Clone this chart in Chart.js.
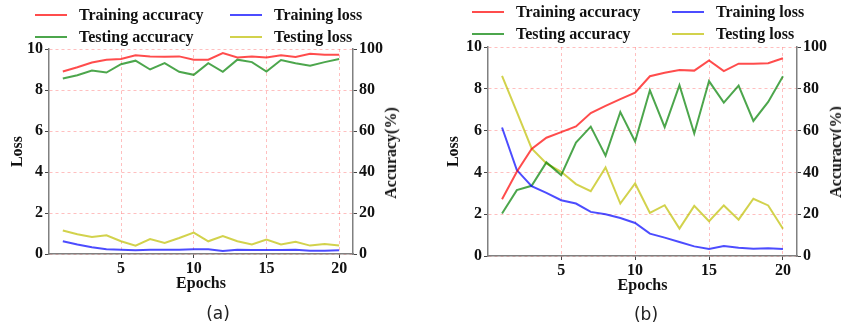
<!DOCTYPE html>
<html>
<head>
<meta charset="utf-8">
<script src="https://cdn.jsdelivr.net/npm/chart.js@4.4.1/dist/chart.umd.min.js"></script>
<style>
  html, body { margin: 0; padding: 0; background: #fff; }
  body { width: 841px; height: 326px; position: relative; overflow: hidden; }
  canvas { position: absolute; top: 0; }
  #chartA { left: 0; }
  #chartB { left: 420px; }
  .legend { position: absolute; display: grid; grid-auto-rows: 22px; font: bold 16px 'Liberation Serif', serif; color: #111; }
  .legend-item { display: flex; align-items: center; white-space: nowrap; }
  .swatch { width: 32px; height: 2px; margin-right: 12px; }
  .ytitle-right { position: absolute; transform: translate(-50%, -50%) rotate(-90deg); font: bold 16px 'Liberation Serif', serif; color: #111; white-space: nowrap; }
  .caption { position: absolute; transform: translate(-50%, -50%); font: 17px 'DejaVu Sans', sans-serif; color: #222; }
</style>
</head>
<body>
<canvas id="chartA" width="420" height="326"></canvas>
<canvas id="chartB" width="421" height="326"></canvas>

<div class="legend" id="legendA" style="left:35px; top:4px; grid-template-columns:195px 195px;"></div>
<div class="legend" id="legendB" style="left:472px; top:1px; grid-template-columns:200px 200px;"></div>

<div class="ytitle-right" style="left:391px; top:153px;">Accuracy(%)</div>
<div class="ytitle-right" style="left:836px; top:152px;">Accuracy(%)</div>

<div class="caption" style="left:218px; top:313px;">(a)</div>
<div class="caption" style="left:646px; top:314px;">(b)</div>

<script>
const epochs = [1, 2, 3, 4, 5, 6, 7, 8, 9, 10, 11, 12, 13, 14, 15, 16, 17, 18, 19, 20];
const epochTicks = [5, 10, 15, 20];
const lossTicks = [0, 2, 4, 6, 8, 10];
const accTicks = [0, 20, 40, 60, 80, 100];

const seriesNames = ['Training accuracy', 'Training loss', 'Testing accuracy', 'Testing loss'];
const seriesColors = ['rgba(255, 0, 0, 0.7)', 'rgba(0, 0, 255, 0.7)', 'rgba(0, 128, 0, 0.7)', 'rgba(191, 191, 0, 0.7)'];

// (a)
const trainAccA = [89.0, 91.1, 93.4, 94.8, 95.1, 96.9, 96.4, 96.2, 96.4, 94.8, 94.8, 98.0, 95.9, 96.4, 95.9, 97.0, 96.1, 97.7, 97.2, 97.2];
const testAccA = [85.6, 87.2, 89.5, 88.5, 92.6, 94.3, 90.0, 93.1, 88.9, 87.4, 93.1, 88.9, 94.8, 93.6, 89.0, 94.6, 93.1, 91.8, 93.6, 95.1];
const trainLossA = [0.62, 0.46, 0.33, 0.23, 0.21, 0.18, 0.21, 0.21, 0.21, 0.23, 0.23, 0.15, 0.21, 0.20, 0.20, 0.20, 0.21, 0.16, 0.16, 0.18];
const testLossA = [1.15, 0.96, 0.83, 0.91, 0.62, 0.41, 0.73, 0.54, 0.78, 1.04, 0.62, 0.88, 0.62, 0.47, 0.70, 0.46, 0.60, 0.41, 0.49, 0.42];

// (b)
const trainAccB = [27.2, 40.3, 51.2, 56.6, 59.3, 62.0, 68.4, 71.8, 75.1, 78.2, 86.0, 87.7, 89.0, 88.7, 93.6, 88.5, 92.0, 92.0, 92.2, 94.6];
const testAccB = [20.3, 31.5, 33.6, 44.8, 38.7, 54.3, 61.9, 48.0, 68.9, 54.8, 79.3, 61.7, 81.7, 58.6, 83.7, 73.4, 81.5, 64.6, 73.7, 86.0];
const trainLossB = [6.15, 4.11, 3.34, 3.02, 2.67, 2.51, 2.11, 2.00, 1.82, 1.58, 1.07, 0.88, 0.67, 0.46, 0.34, 0.48, 0.40, 0.35, 0.37, 0.34];
const testLossB = [8.62, 6.90, 5.15, 4.43, 4.03, 3.44, 3.10, 4.24, 2.51, 3.47, 2.06, 2.43, 1.31, 2.40, 1.66, 2.42, 1.74, 2.74, 2.42, 1.30];

Chart.defaults.font.family = "'Liberation Serif', 'Times New Roman', serif";
Chart.defaults.font.weight = 'bold';
Chart.defaults.font.size = 16;
Chart.defaults.color = '#111';

const gridColor = 'rgba(255, 0, 0, 0.25)';
const spineColor = '#808080';

function fixTicks(values) {
    return scale => { scale.ticks = values.map(v => ({ value: v })); };
}

function buildLegend(id) {
    const box = document.getElementById(id);
    seriesNames.forEach((name, i) => {
        const item = document.createElement('div');
        item.className = 'legend-item';
        item.innerHTML = `<span class="swatch" style="background:${seriesColors[i]}"></span>${name}`;
        box.appendChild(item);
    });
}

function buildChart(canvasId, series, box) {
    const yAxis = ['y1', 'y', 'y1', 'y'];
    const datasets = series.map((values, i) => ({
        label: seriesNames[i],
        data: values,
        yAxisID: yAxis[i],
        borderColor: seriesColors[i],
        backgroundColor: seriesColors[i],
        borderWidth: 2,
        pointRadius: 0,
        tension: 0,
        fill: false
    }));

    return new Chart(document.getElementById(canvasId), {
        type: 'line',
        data: { labels: epochs, datasets: datasets },
        options: {
            responsive: false,
            animation: false,
            layout: { padding: { top: box.top, bottom: box.bottom, left: 0, right: 0 } },
            plugins: { legend: { display: false }, tooltip: { enabled: false } },
            scales: {
                x: {
                    type: 'linear',
                    min: 0.05,
                    max: 20.95,
                    afterBuildTicks: fixTicks(epochTicks),
                    afterFit: s => { s.height = box.xHeight; },
                    ticks: { padding: 1, maxRotation: 0, autoSkip: false },
                    grid: { color: gridColor, lineWidth: 1, tickColor: '#444', tickLength: 4 },
                    border: { color: spineColor, width: 1.5, dash: [3, 3] },
                    title: { display: true, text: 'Epochs', padding: 0 }
                },
                y: {
                    position: 'left',
                    min: 0,
                    max: 10,
                    afterBuildTicks: fixTicks(lossTicks),
                    afterFit: s => { s.width = box.leftWidth; },
                    ticks: { padding: 2 },
                    grid: { color: gridColor, lineWidth: 1, tickColor: '#444', tickLength: 4 },
                    border: { color: spineColor, width: 1.5, dash: [3, 3] },
                    title: { display: true, text: 'Loss', padding: { top: box.lossPad, bottom: 0 } }
                },
                y1: {
                    position: 'right',
                    min: 0,
                    max: 100,
                    afterBuildTicks: fixTicks(accTicks),
                    afterFit: s => { s.width = box.rightWidth; },
                    ticks: { padding: 2 },
                    grid: { drawOnChartArea: false, tickColor: '#444', tickLength: 4 },
                    border: { color: spineColor, width: 1.5 }
                }
            }
        }
    });
}

document.addEventListener('DOMContentLoaded', () => {
    buildLegend('legendA');
    buildLegend('legendB');

    buildChart('chartA', [trainAccA, trainLossA, testAccA, testLossA],
        { top: 49, bottom: 33, leftWidth: 49, rightWidth: 67, xHeight: 39, lossPad: 8 });
    buildChart('chartB', [trainAccB, trainLossB, testAccB, testLossB],
        { top: 47, bottom: 31, leftWidth: 68, rightWidth: 44, xHeight: 39, lossPad: 24 });
});
</script>
</body>
</html>
